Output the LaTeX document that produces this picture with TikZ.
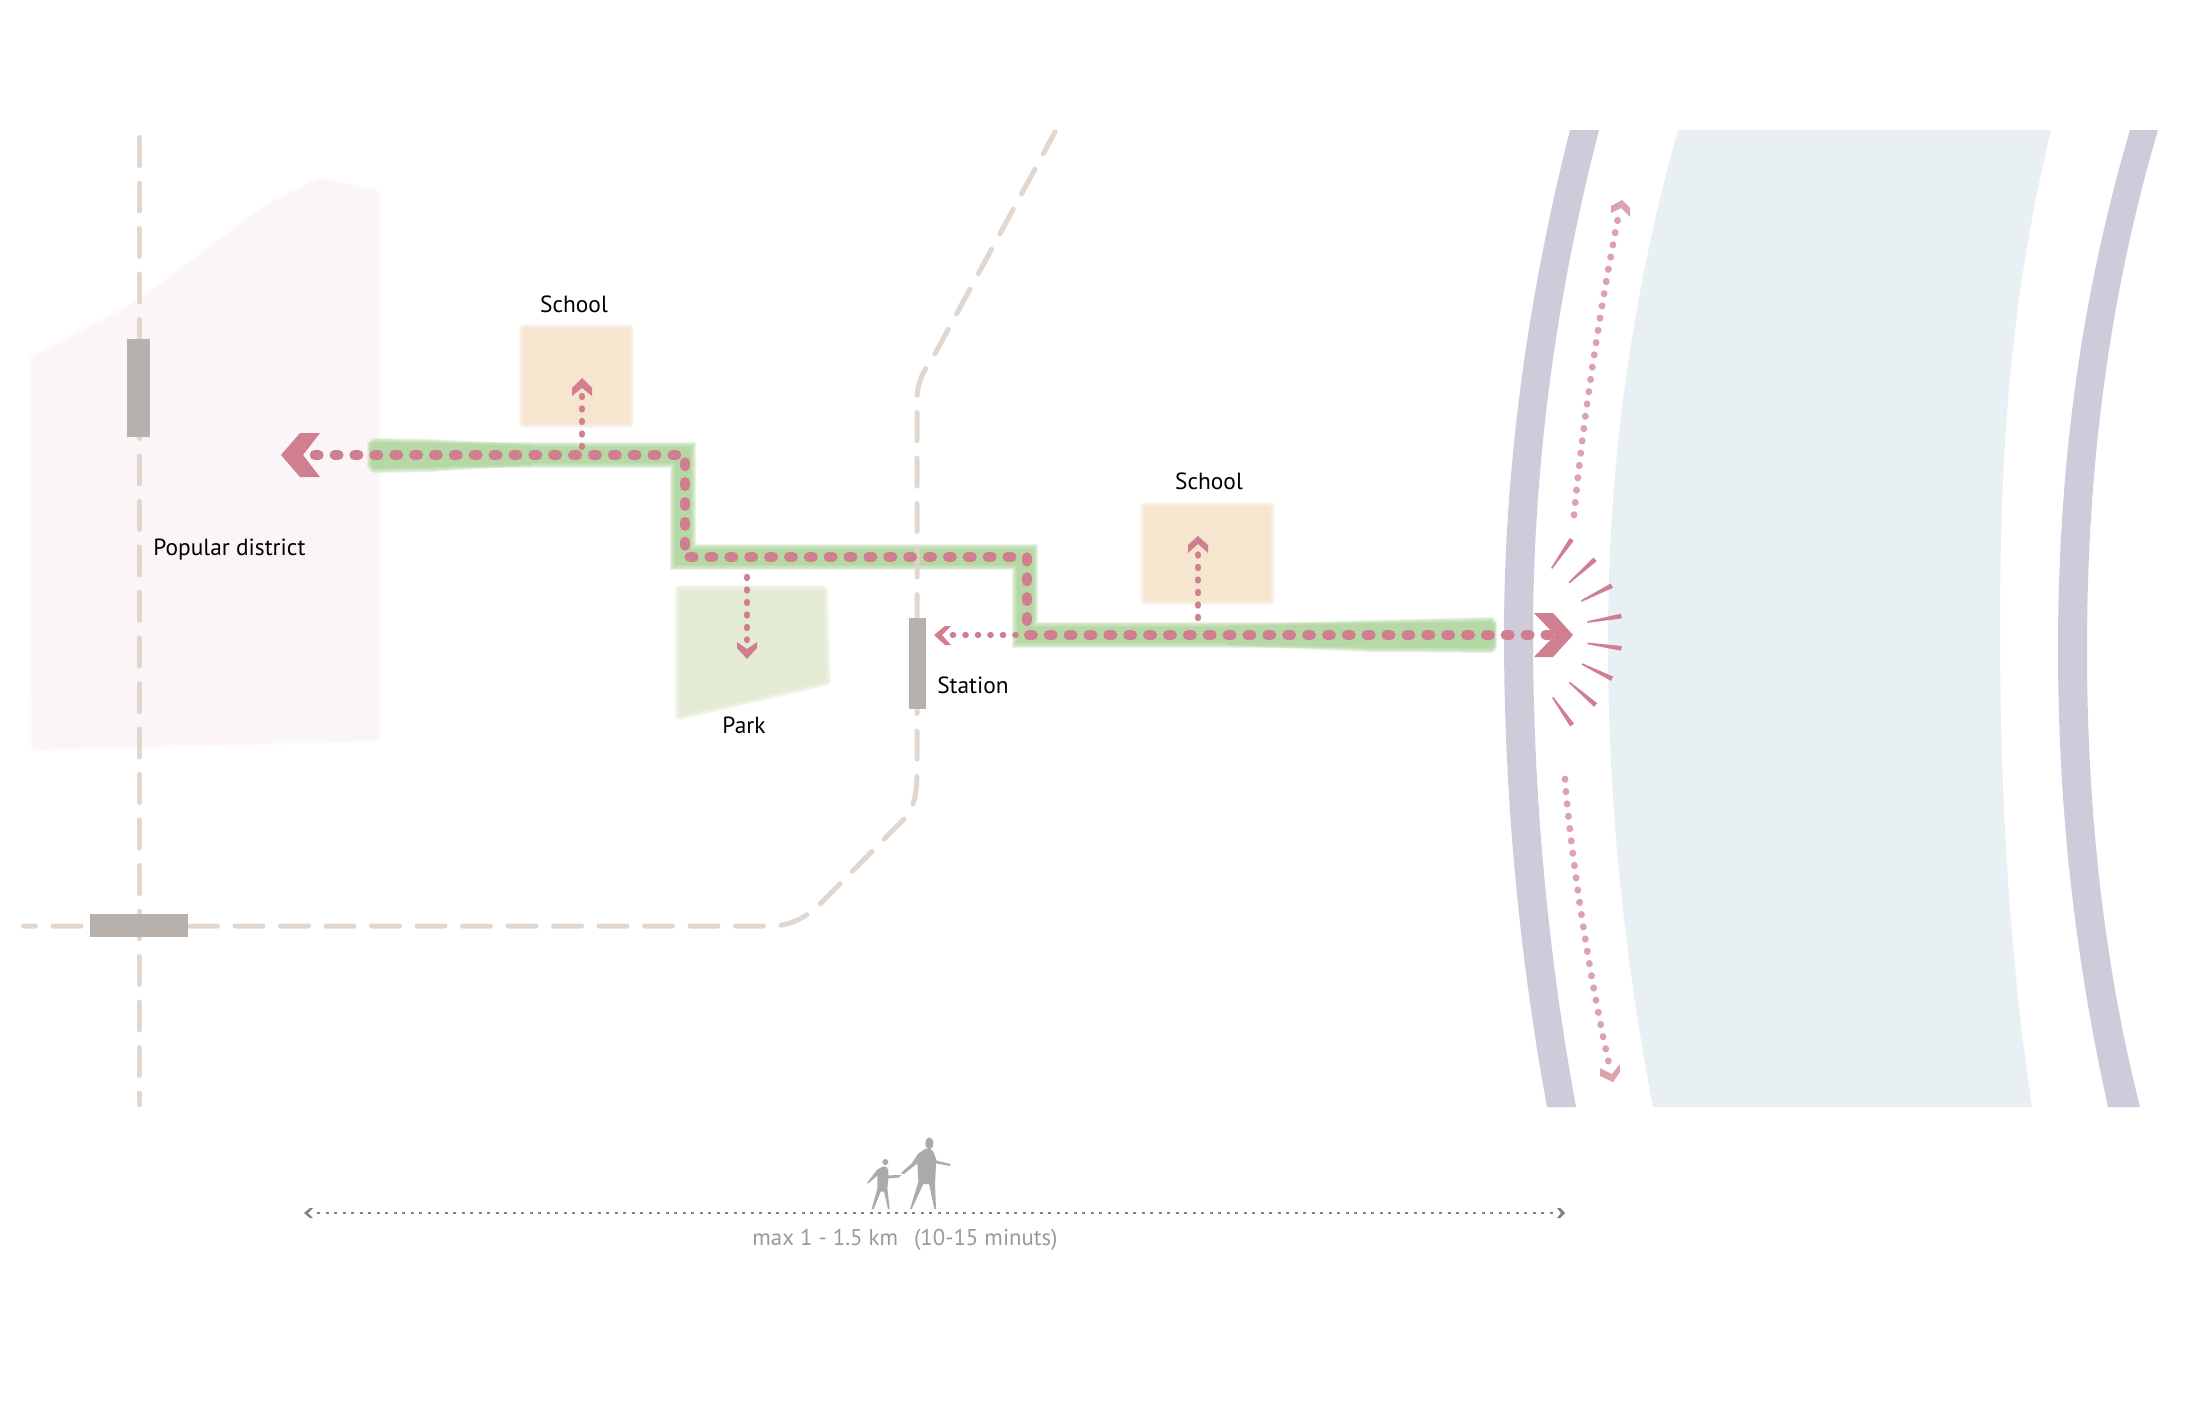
\documentclass[tikz,border=0pt]{standalone}
\usepackage{fontspec}
\setmainfont{PT Sans}
\usetikzlibrary{calc}
\definecolor{rosedot}{HTML}{CF7F8F}
\definecolor{rosesoft}{HTML}{DCA3AF}
\definecolor{roadcol}{HTML}{DFD3CA}
\definecolor{stationcol}{HTML}{B7B1AD}
\definecolor{quaycol}{HTML}{CFCBDA}
\definecolor{watercol}{HTML}{E8F0F4}
\definecolor{districtcol}{HTML}{FBF5F8}
\definecolor{schoolcol}{HTML}{F6E6CF}
\definecolor{parkcol}{HTML}{E4EBD4}
\definecolor{greencol}{HTML}{B5D8A5}
\definecolor{figcol}{HTML}{ABABAB}
\definecolor{notecol}{HTML}{999999}
\definecolor{scalecol}{HTML}{808080}
\tikzset{
  road/.style={draw=roadcol,draw opacity=.9,line width=2.5pt,line cap=round,dash pattern=on 14pt off 8.75pt},
  stationbox/.style={fill=stationcol,draw=none,inner sep=0pt,outer sep=0pt},
  maindots/.style={draw=rosedot,line width=5pt,line cap=round,dash pattern=on 2pt off 7.935pt},
  branchdots/.style={draw=rosedot,line width=3.2pt,line cap=round,dash pattern=on .5pt off 5.75pt},
  sidedots/.style={draw=rosesoft,line width=3.4pt,line cap=round,dash pattern=on .2pt off 6pt},
  scaledots/.style={draw=scalecol,line width=1pt,dash pattern=on 1.5pt off 2.75pt},
  chevron/.style={fill=rosedot,draw=none},
  softchevron/.style={fill=rosesoft,draw=none},
  scalechevron/.style={fill=scalecol,draw=none},
  lbl/.style={inner sep=0pt,font=\fontsize{11.7}{14}\selectfont,text=black},
  note/.style={inner sep=0pt,font=\fontsize{11.4}{14}\selectfont,text=notecol},
}
\newcommand\softfill[2]{%
  \foreach \w in {5pt,4pt,3pt,2pt,1pt}{\draw[line width=\w,draw=#1,draw opacity=.3,line join=round] #2;}
  \fill[#1] #2;}
\newcommand\burst[2]{%
  \fill[rosedot] ($(#1)!.4pt!90:(#2)$) -- ($(#2)!1.2pt!-90:(#1)$) -- ($(#2)!1.2pt!90:(#1)$) -- ($(#1)!.4pt!-90:(#2)$) -- cycle;}
\begin{document}
\begin{tikzpicture}[x=0.5pt,y=-0.5pt]
\useasboundingbox (0,0) rectangle (2206,1419);
\fill[white] (0,0) rectangle (2206,1419);
% water and quays
\fill[watercol] (1678,130) .. controls (1630,300) and (1608,470) .. (1608,640) .. controls (1608,810) and (1625,960) .. (1653,1107)
  -- (2032,1107) .. controls (2010,960) and (2000,800) .. (2000,630) .. controls (2000,450) and (2010,300) .. (2051,130) -- cycle;
\fill[quaycol] (1570,130) .. controls (1527,300) and (1504,470) .. (1504,635) .. controls (1504,800) and (1520,960) .. (1547,1107)
  -- (1576,1107) .. controls (1549,960) and (1533,800) .. (1533,635) .. controls (1533,470) and (1555,300) .. (1599,130) -- cycle;
\fill[quaycol] (2130,130) .. controls (2080,300) and (2058,470) .. (2058,650) .. controls (2058,830) and (2080,980) .. (2108,1107)
  -- (2140,1107) .. controls (2108,980) and (2087,830) .. (2087,650) .. controls (2087,470) and (2108,300) .. (2158,130) -- cycle;
% soft areas
\softfill{districtcol}{(34,360) -- (138,305) -- (267,209) -- (320,182) -- (375,194) -- (375,737) -- (36,746) -- cycle}
\softfill{parkcol}{(680,590) -- (823,590) -- (826,681) -- (680,715) -- cycle}
\softfill{schoolcol}{(524,329) rectangle (629,423)}
\softfill{schoolcol}{(1145,507) rectangle (1270,600)}
% green walk: a band with wider ends
\coordinate (gw0) at (380,455);
\coordinate (gw1) at (683,455);
\coordinate (gw2) at (683,557);
\coordinate (gw3) at (1025,557);
\coordinate (gw4) at (1025,635);
\coordinate (gw5) at (1484,635);
\foreach \w in {13pt,12pt,11pt,10pt,9pt}{\draw[draw=greencol,draw opacity=.3,line width=\w,line cap=rect,line join=miter] (gw0) -- (gw1) -- (gw2) -- (gw3) -- (gw4) -- (gw5);}
\draw[draw=greencol,line width=8pt,line cap=rect,line join=miter] (gw0) -- (gw1) -- (gw2) -- (gw3) -- (gw4) -- (gw5);
\softfill{greencol}{(374,443) -- (430,444) -- (530,449) -- (530,461) -- (430,467) -- (374,468) -- cycle}
\softfill{greencol}{(1230,630) -- (1370,625) -- (1491,622) -- (1491,648) -- (1370,647) -- (1230,641) -- cycle}
% roads
\coordinate (rv0) at (139,137.5);
\coordinate (rv1) at (139,1105);
\draw[road] (rv0) -- (rv1);
\coordinate (rh0) at (23.5,926);
\coordinate (rtop) at (1055,132);
\draw[road,dash phase=8pt] (rh0) -- (770,926) .. controls (790,926) and (805,918) .. (819,905) -- (904,819) .. controls (914,808) and (917,795) .. (917,770) -- (917,400) .. controls (917,385) and (922,372) .. (930,363) -- (rtop);
% stations
\node[stationbox,minimum width=11.5pt,minimum height=49pt] (stA) at (138.5,388) {};
\node[stationbox,minimum width=49pt,minimum height=11.5pt] (stB) at (139,925.5) {};
\node[stationbox,minimum width=8.5pt,minimum height=45.5pt] (stC) at (917.5,663.5) {};
% main dotted walk
\coordinate (w0) at (314.7,455);
\coordinate (w1) at (685,455);
\coordinate (w2) at (685,557);
\coordinate (w3) at (1027,557);
\coordinate (w4) at (1027,635);
\coordinate (w5) at (1552,635);
\draw[maindots] (w0) -- (w1) -- (w2) -- (w3) -- (w4) -- (w5);
\fill[chevron] (281,455) -- (300,433) -- (320,433) -- (303,455) -- (320,477) -- (300,477) -- cycle;
\fill[chevron] (1534,613) -- (1553,613) -- (1573,635) -- (1553,657) -- (1534,657) -- (1555,635) -- cycle;
% branches
\coordinate (b1a) at (582,447);
\coordinate (b1b) at (582,396);
\draw[branchdots] (b1a) -- (b1b);
\fill[chevron] (582,378) -- (592,388) -- (592,396) -- (582,388) -- (572,396) -- (572,388) -- cycle;
\coordinate (b2a) at (1198,618);
\coordinate (b2b) at (1198,554);
\draw[branchdots] (b2a) -- (b2b);
\fill[chevron] (1198,536) -- (1208,545) -- (1208,553) -- (1198,544) -- (1188,553) -- (1188,545) -- cycle;
\coordinate (b3a) at (747,577);
\coordinate (b3b) at (747,640);
\draw[branchdots] (b3a) -- (b3b);
\fill[chevron] (747,659) -- (737,648) -- (737,642) -- (747,649) -- (757,642) -- (757,648) -- cycle;
\coordinate (b4a) at (1016,635);
\coordinate (b4b) at (952,635);
\draw[branchdots,line width=2.8pt] (b4a) -- (b4b);
\fill[chevron] (934,635) -- (945,626) -- (951,626) -- (942,635) -- (951,645) -- (945,645) -- cycle;
% side dotted arrows along the quay
\coordinate (s1a) at (1574,515);
\coordinate (s1b) at (1618,218);
\draw[sidedots] (s1a) .. controls (1582,430) and (1598,320) .. (s1b);
\fill[softchevron] (1622,200) -- (1630,208) -- (1630,217) -- (1621,208) -- (1611,213) -- (1611,206) -- cycle;
\coordinate (s2a) at (1565,779);
\coordinate (s2b) at (1609,1064);
\draw[sidedots] (s2a) .. controls (1570,850) and (1590,980) .. (s2b);
\fill[softchevron] (1600,1068) -- (1612,1074) -- (1620,1064) -- (1620,1072) -- (1613,1082) -- (1600,1076) -- cycle;
% burst
\begin{scope}[shift={(1400,480)},x=0.1667pt,y=-0.1667pt]
\coordinate (p1) at (455,265); \coordinate (q1) at (515,178);
\coordinate (p2) at (507,308); \coordinate (q2) at (585,238);
\coordinate (p3) at (544,363); \coordinate (q3) at (635,317);
\coordinate (p4) at (562,426); \coordinate (q4) at (664,408);
\coordinate (p5) at (562,490); \coordinate (q5) at (664,505);
\coordinate (p6) at (546,552); \coordinate (q6) at (636,596);
\coordinate (p7) at (508,607); \coordinate (q7) at (587,675);
\coordinate (p8) at (458,652); \coordinate (q8) at (516,735);
\end{scope}
\foreach \i in {1,...,8}{\burst{p\i}{q\i}}
% scale bar
\coordinate (sc0) at (317,1213);
\coordinate (sc1) at (1554,1213);
\draw[scaledots] (sc0) -- (sc1);
\fill[scalechevron] (304,1213) -- (310,1208) -- (313,1208) -- (308,1213) -- (313,1218) -- (310,1218) -- cycle;
\fill[scalechevron] (1565,1213) -- (1560,1208) -- (1557,1208) -- (1561,1213) -- (1557,1218) -- (1560,1218) -- cycle;
% walking figures
\begin{scope}[shift={(780,1110)},x=0.1667pt,y=-0.1667pt]
\fill[figcol] (448,100) ellipse [x radius=12,y radius=18];
\fill[figcol] (437,116) -- (415,130) -- (395,160) -- (362,190) -- (372,192) -- (412,160) -- (415,215) -- (390,297) -- (395,297) -- (430,222) -- (447,222) -- (463,297) -- (468,297) -- (465,225) -- (468,160) -- (510,168) -- (512,162) -- (470,152) -- (460,125) -- (450,116) -- cycle;
\fill[figcol] (316,156) circle [radius=9];
\fill[figcol] (308,170) -- (292,178) -- (260,220) -- (265,220) -- (292,197) -- (292,235) -- (275,297) -- (281,297) -- (302,245) -- (312,245) -- (324,297) -- (329,297) -- (322,235) -- (325,205) -- (355,203) -- (365,195) -- (325,196) -- (325,180) -- (318,170) -- cycle;
\end{scope}
% labels
\node[lbl] (lsA) at (574,304) {School};
\node[lbl] (lsB) at (1209,481) {School};
\node[lbl] (lpk) at (744,725) {Park};
\node[lbl] (lst) at (973,685) {Station};
\node[lbl,anchor=west] (ldi) at (153,550) {Popular district};
\node[note] (lnote) at (905,1240) {max 1 - 1.5 km\hspace{0.7em}(10-15 minuts)};
\end{tikzpicture}
\end{document}
